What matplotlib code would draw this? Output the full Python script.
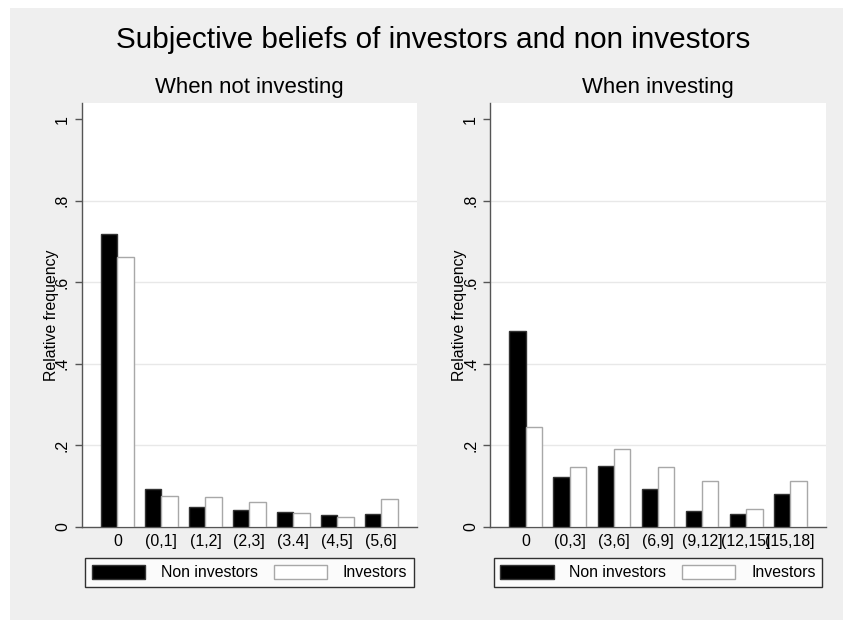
import matplotlib
matplotlib.use("Agg")
import matplotlib.pyplot as plt
import numpy as np
from matplotlib.patches import Rectangle, Patch

plt.rcParams['font.family'] = ['Liberation Sans', 'DejaVu Sans']

title = "Subjective beliefs of investors and non investors"
sub_left = "When not investing"
sub_right = "When investing"
ylabel = "Relative frequency"
series_names = ["Non investors", "Investors"]

cats_left = ["0", "(0,1]", "(1,2]", "(2,3]", "(3.4]", "(4,5]", "(5,6]"]
non_left = [0.719, 0.092, 0.048, 0.040, 0.035, 0.029, 0.032]
inv_left = [0.662, 0.075, 0.074, 0.061, 0.034, 0.025, 0.067]

cats_right = ["0", "(0,3]", "(3,6]", "(6,9]", "(9,12]", "(12,15]", "(15,18]"]
non_right = [0.481, 0.121, 0.149, 0.093, 0.039, 0.030, 0.081]
inv_right = [0.245, 0.147, 0.190, 0.146, 0.111, 0.043, 0.112]

yticks = [0, 0.2, 0.4, 0.6, 0.8, 1.0]
yticklabels = ["0", ".2", ".4", ".6", ".8", "1"]

W, H = 843, 620
fig = plt.figure(figsize=(W / 100, H / 100), dpi=100, facecolor="white")
bg = "#efefef"
fig.patches.append(Rectangle((10 / W, -0.01), 1.01 - 10 / W, 1.01 - 8 / H,
                             transform=fig.transFigure, facecolor=bg,
                             edgecolor="none", zorder=-10))

fs_tick = 11.4
fig.text(433 / W, 1 - 40 / H, title, ha="center", va="center", fontsize=21.4)

bw = 0.373
black_edge = "#333333"
white_edge = "#a8a8a8"
axis_col = "#555555"


def panel(x0px, x1px, cats, non, inv, subtitle):
    top, bot = 103, 526.7
    ax = fig.add_axes([x0px / W, 1 - bot / H, (x1px - x0px) / W, (bot - top) / H])
    ax.set_facecolor("white")
    x = np.arange(len(cats))
    ax.bar(x - bw / 2, non, width=bw, color="black", edgecolor=black_edge,
           linewidth=1.0, zorder=3)
    ax.bar(x + bw / 2, inv, width=bw, color="white", edgecolor=white_edge,
           linewidth=1.0, zorder=3)
    ax.set_xlim(-0.813, len(cats) - 1 + 0.813)
    ax.set_ylim(0, 1.04)
    ax.set_yticks(yticks)
    ax.set_yticklabels(yticklabels, rotation=90, va="center", fontsize=fs_tick)
    ax.set_xticks(x)
    ax.set_xticklabels(cats, fontsize=fs_tick)
    ax.tick_params(axis="x", length=0, pad=5)
    ax.tick_params(axis="y", length=5, width=1, color=axis_col, pad=3.5)
    for v in yticks[1:-1]:
        ax.axhline(v, color="#e8e8e8", lw=1.0, zorder=1)
    for s in ["top", "right"]:
        ax.spines[s].set_visible(False)
    for s in ["left", "bottom"]:
        ax.spines[s].set_color(axis_col)
        ax.spines[s].set_linewidth(1.0)
    ax.set_ylabel(ylabel, fontsize=fs_tick)
    ax.yaxis.set_label_coords(-23.0 / (x1px - x0px), 0.5)
    fig.text((x0px + x1px) / 2 / W, 1 - 87 / H, subtitle, ha="center",
             va="center", fontsize=15.9)
    handles = [Patch(facecolor="black", edgecolor=black_edge, lw=1.0),
               Patch(facecolor="white", edgecolor=white_edge, lw=1.0)]
    leg = ax.legend(handles, series_names, ncol=2, loc="upper center",
                    bbox_to_anchor=((x0px + x1px) / 2 / W, 1 - 558.3 / H),
                    bbox_transform=fig.transFigure, fontsize=fs_tick,
                    handlelength=3.35, handleheight=0.98, handletextpad=1.0,
                    columnspacing=1.0, borderpad=0.42, fancybox=False,
                    frameon=True, edgecolor="black", facecolor="white",
                    borderaxespad=0)
    leg.get_frame().set_linewidth(1.0)
    return ax


panel(81.7, 417, cats_left, non_left, inv_left, sub_left)
panel(490, 826, cats_right, non_right, inv_right, sub_right)

fig.savefig("out.png", dpi=100, facecolor=fig.get_facecolor())
